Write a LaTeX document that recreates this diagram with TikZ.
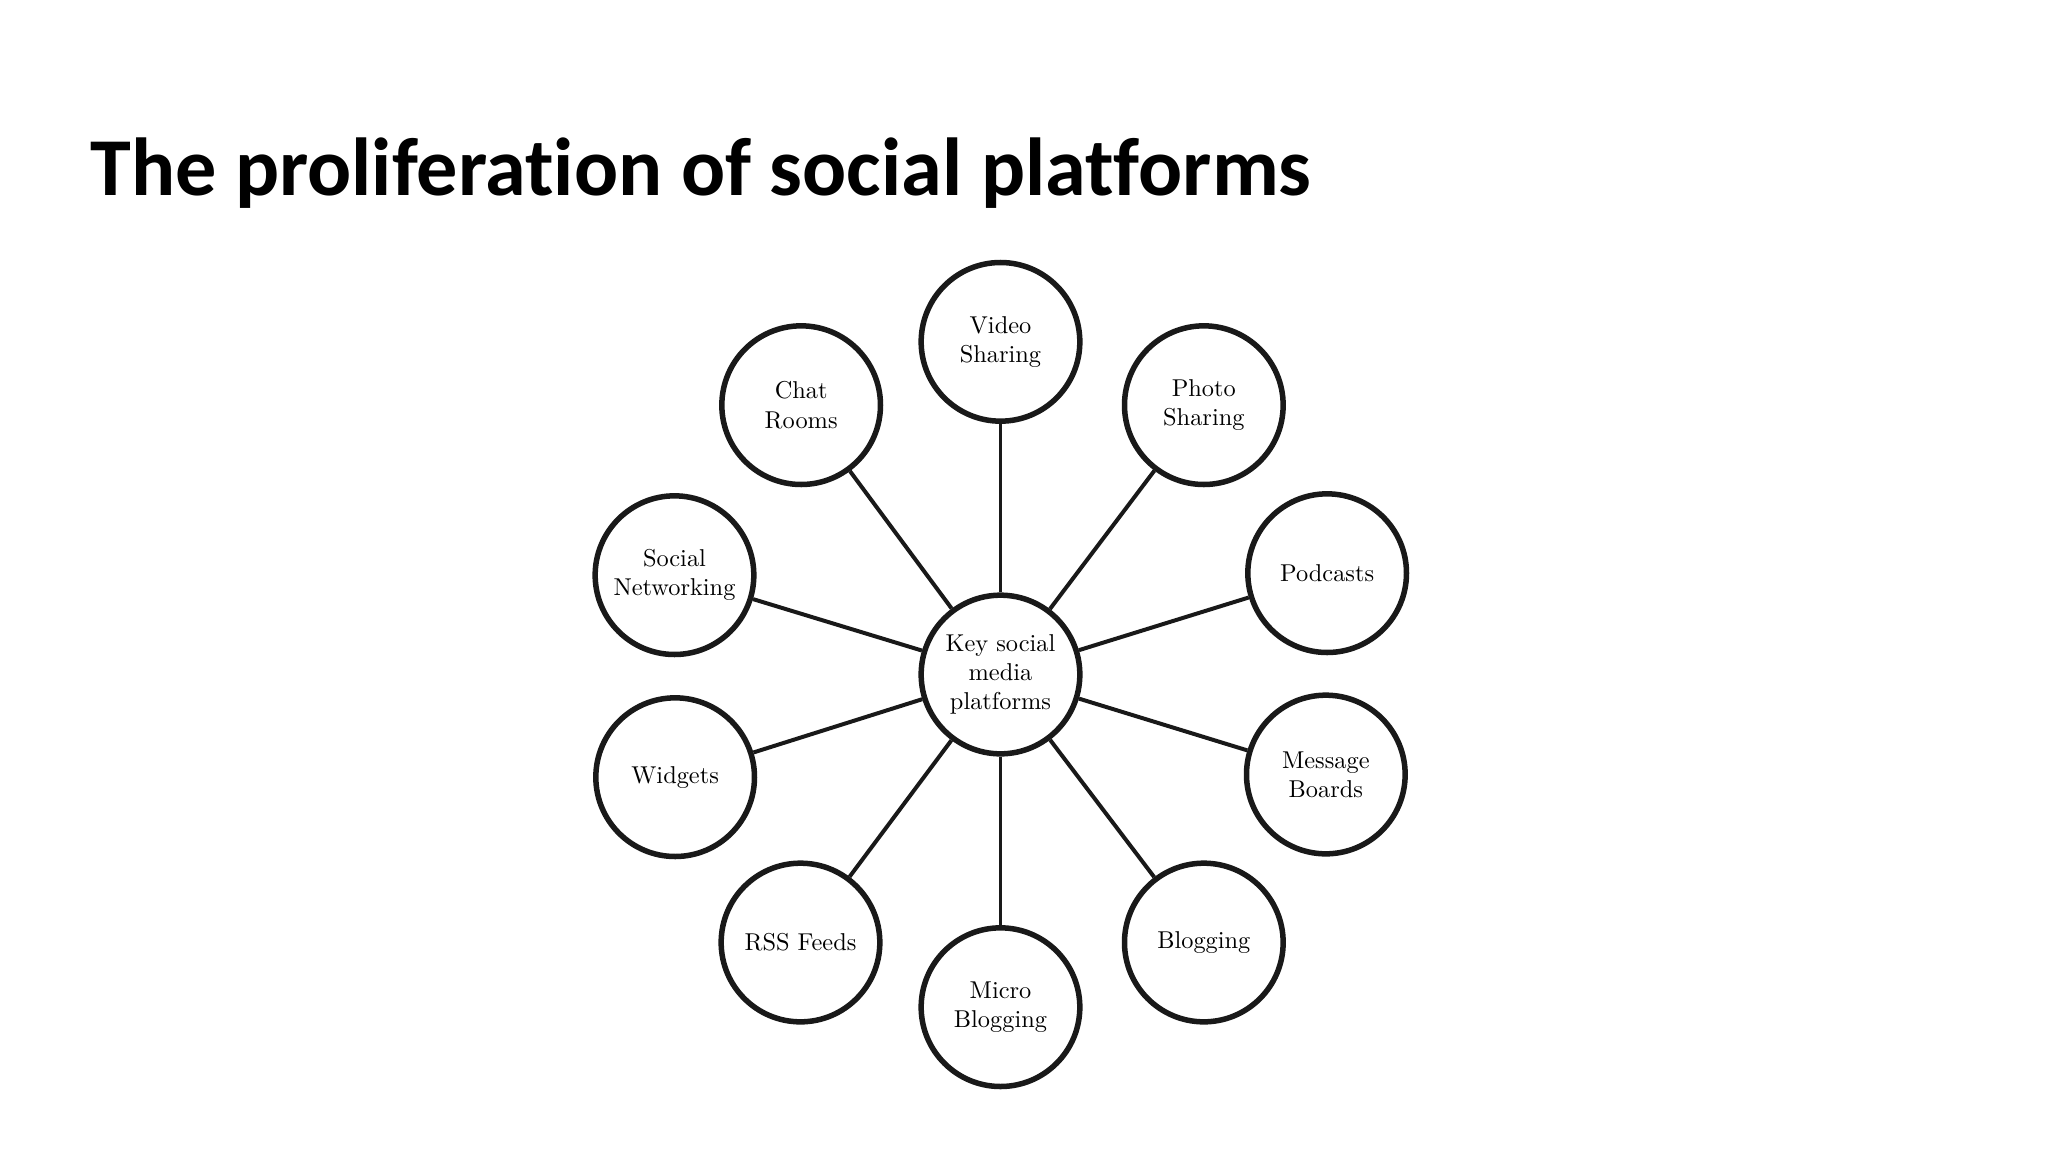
\documentclass[tikz,border=0pt]{standalone}
\usepackage{fontspec}
\newfontfamily\titlefont[Ligatures=NoCommon]{Carlito}
\usetikzlibrary{positioning}

\begin{document}
\begin{tikzpicture}[auto,
  platform/.style={circle, draw=black!90, line width=2.35pt, minimum size=2.38cm,
    inner sep=0pt, align=center, fill=white, font=\fontsize{10.4}{12.4}\selectfont},
  link/.style={line width=1.7pt, draw=black!90}]

\useasboundingbox (-15.0075,-7.1625) rectangle (15.7125,10.1175);

% the title
\node[anchor=base west, inner sep=0pt, font=\titlefont\bfseries\fontsize{35.1}{37}\selectfont]
  (title) at (-13.66,7.19) {The proliferation of social platforms};

% define the hub and the platforms round it
  \node[platform]   (key)      at (0,0)           {Key social\\media\\platforms};
  \node[platform]   (video)    at (0,4.99)        {Video\\Sharing};
  \node[platform]   (photo)    at (3.05,4.04)     {Photo\\Sharing};
  \node[platform]   (podcasts) at (4.9,1.52)      {Podcasts};
  \node[platform]   (boards)   at (4.88,-1.5)     {Message\\Boards};
  \node[platform]   (blogging) at (3.05,-4.02)    {Blogging};
  \node[platform]   (micro)    at (0,-4.99)       {Micro\\Blogging};
  \node[platform]   (rss)      at (-3.0,-4.02)    {RSS Feeds};
  \node[platform]   (widgets)  at (-4.88,-1.54)   {Widgets};
  \node[platform]   (social)   at (-4.89,1.49)    {Social\\Networking};
  \node[platform]   (chat)     at (-2.99,4.04)    {Chat\\Rooms};

% define the links
  \path[link] (key) edge (video)
                    edge (photo)
                    edge (podcasts)
                    edge (boards)
                    edge (blogging)
                    edge (micro)
                    edge (rss)
                    edge (widgets)
                    edge (social)
                    edge (chat);

\end{tikzpicture}
\end{document}
